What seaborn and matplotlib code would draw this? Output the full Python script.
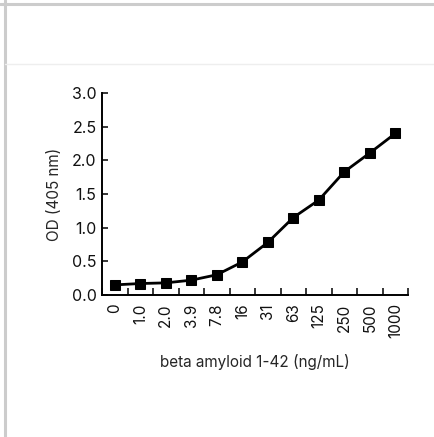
import matplotlib
matplotlib.use("Agg")
import matplotlib.pyplot as plt
import seaborn as sns
import pandas as pd
from matplotlib.lines import Line2D

# datos
conc_labels = ["0", "1.0", "2.0", "3.9", "7.8", "16", "31", "63", "125", "250", "500", "1000"]
od_values = [0.15, 0.17, 0.18, 0.22, 0.30, 0.49, 0.78, 1.15, 1.41, 1.83, 2.11, 2.40]
y_ticks = [0.0, 0.5, 1.0, 1.5, 2.0, 2.5, 3.0]

df = pd.DataFrame({"conc": conc_labels, "od": od_values})
df["pos"] = range(len(df))

sns.set_style("ticks")
plt.rcParams["font.family"] = ["Inter", "DejaVu Sans"]
plt.rcParams["text.color"] = "#111111"

fig = plt.figure(figsize=(4.35, 4.37), dpi=100)
ax = fig.add_axes([0.2345, 0.325, 0.7035, 0.462])

sns.lineplot(data=df, x="pos", y="od", ax=ax, color="black", linewidth=2.0,
             marker="s", markersize=7, markeredgecolor="black")

ax.set_xlim(-0.5, len(conc_labels) - 0.5)
ax.set_ylim(0, 3.0)
ax.set_yticks(y_ticks)
ax.set_yticklabels([f"{v:.1f}" for v in y_ticks], fontsize=11.5, color="#111111")

# marcas en los limites de cada categoria, etiquetas en el centro
ax.set_xticks([i - 0.5 for i in range(len(conc_labels) + 1)])
ax.set_xticklabels([])
ax.set_xticks(range(len(conc_labels)), minor=True)
ax.set_xticklabels(conc_labels, minor=True, rotation=90, fontsize=11, color="#111111")
ax.tick_params(axis="x", which="major", direction="in", length=5, width=1.3)
ax.tick_params(axis="x", which="minor", length=0, pad=6)
ax.tick_params(axis="y", direction="in", length=4, width=1.3, pad=4)

ax.set_xlabel("beta amyloid 1-42 (ng/mL)", fontsize=11, labelpad=11)
ax.set_ylabel("OD (405 nm)", fontsize=11, labelpad=7)
sns.despine(ax=ax)
for s in ["left", "bottom"]:
    ax.spines[s].set_linewidth(1.4)
    ax.spines[s].set_color("black")

# marco gris de la imagen
fig.add_artist(Line2D([0, 1], [1 - 3.5 / 437] * 2, color="#cccccc", linewidth=2.2))
fig.add_artist(Line2D([5.5 / 435] * 2, [0, 1], color="#cccccc", linewidth=2.2))
fig.add_artist(Line2D([5.5 / 435, 1], [1 - 63.5 / 437] * 2, color="#eeeeee", linewidth=1))

fig.savefig("out.png", dpi=100)
